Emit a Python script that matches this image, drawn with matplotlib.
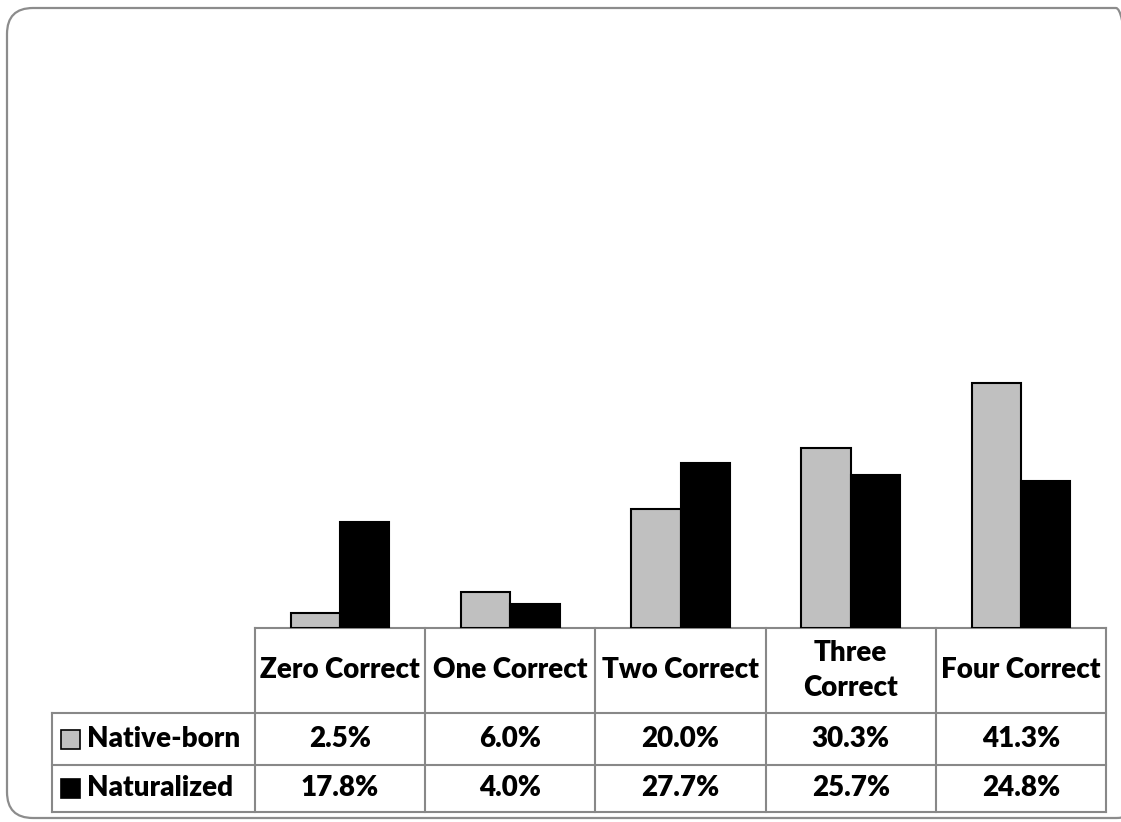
import matplotlib
matplotlib.use('Agg')
import matplotlib.pyplot as plt
from matplotlib.patches import FancyBboxPatch, Rectangle
from matplotlib.transforms import IdentityTransform
import numpy as np

# chart data
categories = ['Zero Correct', 'One Correct', 'Two Correct', 'Three\nCorrect', 'Four Correct']
native_born = [2.5, 6.0, 20.0, 30.3, 41.3]
naturalized = [17.8, 4.0, 27.7, 25.7, 24.8]
series_names = ['Native-born', 'Naturalized']
series_colors = ['#c0c0c0', '#000000']

W, H = 1121, 822
fig = plt.figure(figsize=(W / 100, H / 100), dpi=100)
fig.patch.set_facecolor('white')

# rounded frame around the whole chart (pixel coords)
frame = FancyBboxPatch((7, 4), 1135, 810,
                       boxstyle='round,pad=0,rounding_size=26',
                       transform=IdentityTransform(), fill=False,
                       edgecolor='#8c8c8c', linewidth=1.6)
fig.patches.append(frame)

left, right = 255 / W, 1106 / W
bottom, top = 1 - 628 / H, 1 - 34 / H
ax = fig.add_axes([left, bottom, right - left, top - bottom])

x = np.arange(len(categories))
bw = 0.29
ax.bar(x - bw / 2, native_born, bw, color=series_colors[0], edgecolor='black', linewidth=1.5, zorder=3)
ax.bar(x + bw / 2, naturalized, bw, color=series_colors[1], edgecolor='black', linewidth=1.5, zorder=3)

ax.set_xlim(-0.5, len(categories) - 0.5)
ax.set_ylim(0, 100)
ax.axis('off')

# data table under the plot
grid = '#888888'
tr = ax.get_xaxis_transform()
px = 594.0  # axes height in pixels
y_head = -(713 - 628) / px
y_r1 = -(765 - 628) / px
y_r2 = -(812 - 628) / px
cell_w = (1106 - 255) / len(categories)
x_lab = -0.5 - (255 - 52) / cell_w

font = dict(family=['Lato', 'DejaVu Sans'], weight='heavy', fontsize=20)

# horizontal lines
ax.plot([-0.5, 4.5], [0, 0], color=grid, lw=1.5, transform=tr, clip_on=False)
for yy in [y_head, y_r1, y_r2]:
    ax.plot([x_lab, 4.5], [yy, yy], color=grid, lw=1.5, transform=tr, clip_on=False)
# vertical lines
for xx in np.arange(-0.5, len(categories), 1.0):
    ax.plot([xx, xx], [0, y_r2], color=grid, lw=1.5, transform=tr, clip_on=False)
ax.plot([x_lab, x_lab], [y_head, y_r2], color=grid, lw=1.5, transform=tr, clip_on=False)

# header texts
for i, c in enumerate(categories):
    ax.text(i, (0 + y_head) / 2, c, ha='center', va='center', transform=tr,
            linespacing=1.4, **font)

# rows
rows = [native_born, naturalized]
ys = [(y_head + y_r1) / 2, (y_r1 + y_r2) / 2]
for r, (vals, yc) in enumerate(zip(rows, ys)):
    for i, v in enumerate(vals):
        ax.text(i, yc, f'{v:.1f}%', ha='center', va='center', transform=tr, **font)
    # legend key square
    sq = 19 / cell_w
    sq_h = 19 / px
    ax.add_patch(Rectangle((x_lab + 9 / cell_w, yc - sq_h / 2), sq, sq_h,
                           facecolor=series_colors[r], edgecolor='black', lw=1.2,
                           transform=tr, clip_on=False))
    ax.text(x_lab + 35 / cell_w, yc, series_names[r], ha='left', va='center',
            transform=tr, **font)

fig.savefig('out.png', dpi=100)
